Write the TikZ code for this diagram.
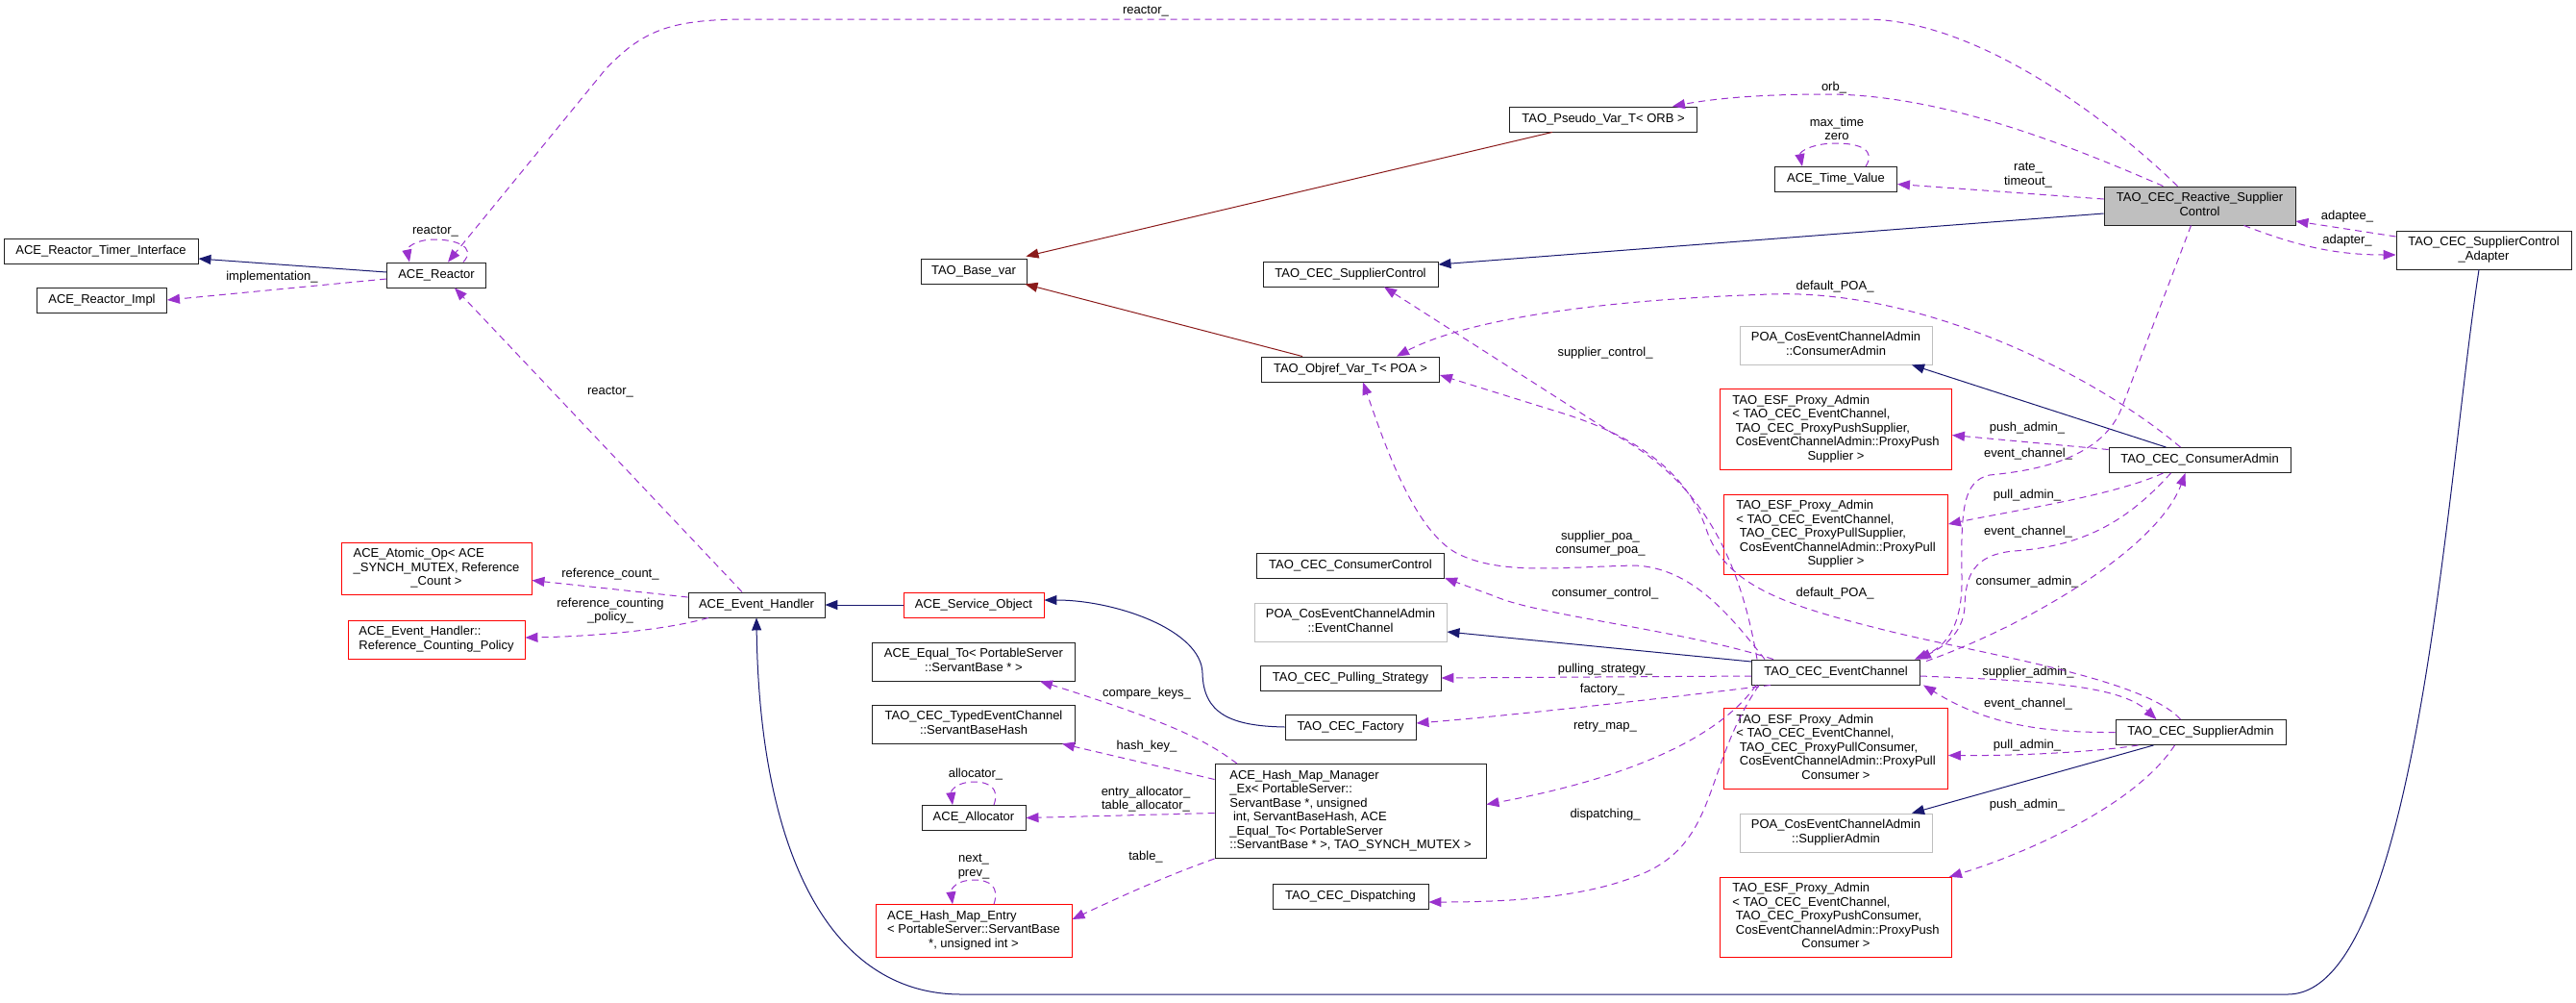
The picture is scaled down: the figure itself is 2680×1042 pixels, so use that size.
\documentclass[tikz,border=0pt]{standalone}
\usepackage{fontspec}
\setmainfont{Liberation Sans}
\usetikzlibrary{arrows.meta}
\definecolor{inhcol}{HTML}{191970}
\definecolor{tplcol}{HTML}{8B1A1A}
\definecolor{usecol}{HTML}{9A32CD}
\definecolor{greycol}{HTML}{BFBFBF}
\definecolor{edgecol}{HTML}{202020}
\newcommand{\dfont}{\fontsize{13}{14.5}\selectfont}
\newcommand{\lastc}[2]{\begin{tabular}{@{}l@{}}#1\\\multicolumn{1}{@{}c@{}}{#2}\end{tabular}}
\newcommand{\lefts}[1]{\begin{tabular}{@{}l@{}}#1\end{tabular}}
\tikzset{
  cls/.style={draw=edgecol, fill=white, line width=0.9pt, font=\dfont, inner xsep=4pt, inner ysep=5.5pt, minimum height=26pt},
  clsred/.style={cls, draw=red},
  clsgrey/.style={cls, draw=greycol},
  clsmain/.style={cls, fill=greycol},
  memb/.style={font=\dfont, inner sep=0pt, align=center},
  inh/.style={draw=inhcol, line width=1pt, -{Triangle[length=13pt,width=10pt]}},
  tpl/.style={draw=tplcol, line width=1pt, -{Triangle[length=13pt,width=10pt]}},
  usage/.style={draw=usecol, line width=1pt, dash pattern=on 7pt off 5pt, -{Triangle[length=13pt,width=10pt]}}
}
\begin{document}
\begin{tikzpicture}[x=1pt,y=-1pt]
\useasboundingbox (0,0) rectangle (2680,1042);
\node[cls, minimum width=202pt] (timer) at (105,261) {ACE\_Reactor\_Timer\_Interface};
\node[cls, minimum width=135pt] (rimpl) at (106,312) {ACE\_Reactor\_Impl};
\node[cls, minimum width=103pt] (reactor) at (454,286) {ACE\_Reactor};
\node[cls, minimum width=142pt] (evh) at (787,629) {ACE\_Event\_Handler};
\node[clsred, minimum width=198pt] (atomic) at (454,591.5) {\lastc{ACE\_Atomic\_Op< ACE\\\_SYNCH\_MUTEX, Reference}{\_Count >}};
\node[clsred, minimum width=184pt] (rcpol) at (454,665) {\lastc{ACE\_Event\_Handler::}{Reference\_Counting\_Policy}};
\node[clsred, minimum width=146pt] (svcobj) at (1013,629) {ACE\_Service\_Object};
\node[cls, minimum width=211pt] (equalto) at (1013,688) {\lastc{ACE\_Equal\_To< PortableServer}{::ServantBase * >}};
\node[cls, minimum width=211pt] (sbhash) at (1013,753) {\lastc{TAO\_CEC\_TypedEventChannel}{::ServantBaseHash}};
\node[cls, minimum width=108pt] (alloc) at (1013,850.5) {ACE\_Allocator};
\node[cls, minimum width=282pt] (hmm) at (1405,843.5) {\lefts{ACE\_Hash\_Map\_Manager\\\_Ex< PortableServer::\\ServantBase *, unsigned\\\ int, ServantBaseHash, ACE\\\_Equal\_To< PortableServer\\::ServantBase * >, TAO\_SYNCH\_MUTEX >}};
\node[clsred, minimum width=204pt] (hmentry) at (1013,968) {\lastc{ACE\_Hash\_Map\_Entry\\< PortableServer::ServantBase}{*, unsigned int >}};
\node[cls, minimum width=195pt] (pseudo) at (1668,124) {TAO\_Pseudo\_Var\_T< ORB >};
\node[cls, minimum width=127pt] (timeval) at (1910,186.5) {ACE\_Time\_Value};
\node[clsmain, minimum width=199pt] (rsc) at (2288.5,214) {\lastc{TAO\_CEC\_Reactive\_Supplier}{Control}};
\node[cls, minimum width=182pt] (adapter) at (2584,260) {\lastc{TAO\_CEC\_SupplierControl}{\_Adapter}};
\node[cls, minimum width=110pt] (basevar) at (1013,282) {TAO\_Base\_var};
\node[cls, minimum width=182pt] (supctrl) at (1405,285) {TAO\_CEC\_SupplierControl};
\node[cls, minimum width=185pt] (objref) at (1405,384) {TAO\_Objref\_Var\_T< POA >};
\node[clsgrey, minimum width=200pt] (poaca) at (1910,359) {\lastc{POA\_CosEventChannelAdmin}{::ConsumerAdmin}};
\node[clsred, minimum width=241pt] (pxpushsup) at (1910,446.5) {\lastc{TAO\_ESF\_Proxy\_Admin\\< TAO\_CEC\_EventChannel,\\\ TAO\_CEC\_ProxyPushSupplier,\\\ CosEventChannelAdmin::ProxyPush}{Supplier >}};
\node[clsred, minimum width=233pt] (pxpullsup) at (1910,556) {\lastc{TAO\_ESF\_Proxy\_Admin\\< TAO\_CEC\_EventChannel,\\\ TAO\_CEC\_ProxyPullSupplier,\\\ CosEventChannelAdmin::ProxyPull}{Supplier >}};
\node[cls, minimum width=189pt] (conadmin) at (2288.5,478.5) {TAO\_CEC\_ConsumerAdmin};
\node[cls, minimum width=195pt] (conctrl) at (1405,588) {TAO\_CEC\_ConsumerControl};
\node[clsgrey, minimum width=200pt] (poaec) at (1405,647) {\lastc{POA\_CosEventChannelAdmin}{::EventChannel}};
\node[cls, minimum width=188pt] (pullstrat) at (1405,705) {TAO\_CEC\_Pulling\_Strategy};
\node[cls, minimum width=175pt] (evch) at (1910,699) {TAO\_CEC\_EventChannel};
\node[cls, minimum width=136pt] (factory) at (1405,756) {TAO\_CEC\_Factory};
\node[cls, minimum width=162pt] (dispatch) at (1405,932) {TAO\_CEC\_Dispatching};
\node[cls, minimum width=177pt] (supadmin) at (2289.5,761.5) {TAO\_CEC\_SupplierAdmin};
\node[clsred, minimum width=233pt] (pxpullcon) at (1910,778.5) {\lastc{TAO\_ESF\_Proxy\_Admin\\< TAO\_CEC\_EventChannel,\\\ TAO\_CEC\_ProxyPullConsumer,\\\ CosEventChannelAdmin::ProxyPull}{Consumer >}};
\node[clsgrey, minimum width=200pt] (poasa) at (1910,866) {\lastc{POA\_CosEventChannelAdmin}{::SupplierAdmin}};
\node[clsred, minimum width=241pt] (pxpushcon) at (1910,954) {\lastc{TAO\_ESF\_Proxy\_Admin\\< TAO\_CEC\_EventChannel,\\\ TAO\_CEC\_ProxyPushConsumer,\\\ CosEventChannelAdmin::ProxyPush}{Consumer >}};

\node[memb] (lrself) at (453,241) {reactor\_};
\node[memb] (limpl) at (283,288) {implementation\_};
\node[memb] (lehreactor) at (635,408) {reactor\_};
\node[memb] (lrefcount) at (635,597) {reference\_count\_};
\node[memb] (lrefpol) at (635,635) {reference\_counting\\\_policy\_};
\node[memb] (ltopreactor) at (1192,12) {reactor\_};
\node[memb] (lorb) at (1908,91) {orb\_};
\node[memb] (ltime) at (1911,134) {max\_time\\zero};
\node[memb] (lrate) at (2110,182) {rate\_\\timeout\_};
\node[memb] (ladaptee) at (2442,225) {adaptee\_};
\node[memb] (ladapter) at (2442,250) {adapter\_};
\node[memb] (ldefpoaca) at (1909,298) {default\_POA\_};
\node[memb] (lsupctrl) at (1670,367) {supplier\_control\_};
\node[memb] (lpushca) at (2109,445) {push\_admin\_};
\node[memb] (lecrsc) at (2110,472) {event\_channel\_};
\node[memb] (lpullca) at (2109,515) {pull\_admin\_};
\node[memb] (lecca) at (2110,553) {event\_channel\_};
\node[memb] (lpoa) at (1665,565) {supplier\_poa\_\\consumer\_poa\_};
\node[memb] (lcaadm) at (2109,605) {consumer\_admin\_};
\node[memb] (lconctrl) at (1670,617) {consumer\_control\_};
\node[memb] (ldefpoasa) at (1909,617) {default\_POA\_};
\node[memb] (lpulling) at (1670,696) {pulling\_strategy\_};
\node[memb] (lsaadm) at (2110,699) {supplier\_admin\_};
\node[memb] (lfactory) at (1667,717) {factory\_};
\node[memb] (lecsa) at (2110,732) {event\_channel\_};
\node[memb] (lretry) at (1670,756) {retry\_map\_};
\node[memb] (lpullsa) at (2109,775) {pull\_admin\_};
\node[memb] (lpushsa) at (2109,837) {push\_admin\_};
\node[memb] (ldisp) at (1670,847) {dispatching\_};
\node[memb] (lcmp) at (1193,721) {compare\_keys\_};
\node[memb] (lhash) at (1193,776) {hash\_key\_};
\node[memb] (lallocs) at (1192,831) {entry\_allocator\_\\table\_allocator\_};
\node[memb] (lalloc) at (1015,805) {allocator\_};
\node[memb] (ltable) at (1192,891) {table\_};
\node[memb] (lnext) at (1013,901) {next\_\\prev\_};

\draw[inh] ([yshift=3pt]reactor.west) -- ([yshift=-8pt]timer.east);
\draw[inh] (svcobj.west) -- (evh.east);
\draw[inh] (factory.west) .. controls (1280,755) and (1252,742) .. (1251,700) .. controls (1250,655) and (1160,624) .. ([yshift=5pt]svcobj.east);
\draw[inh] ([yshift=-8pt]rsc.west) -- ([yshift=10pt]supctrl.east);
\draw[inh] ([xshift=-35pt]conadmin.north) -- ([xshift=79pt]poaca.south);
\draw[inh] ([yshift=11pt]evch.west) -- ([yshift=-10pt]poaec.east);
\draw[inh] ([xshift=-49pt]supadmin.south) -- ([xshift=79pt]poasa.north);
\draw[inh] ([xshift=-5pt]adapter.south) .. controls (2545,500) and (2515,1034) .. (2380,1034) -- (1000,1034) .. controls (860,1034) and (790,880) .. (evh.south);
\draw[tpl] ([xshift=-53pt]pseudo.south) -- ([xshift=-1pt,yshift=2pt]basevar.north east);
\draw[tpl] ([xshift=-50pt]objref.north) -- ([xshift=-2pt]basevar.south east);

\draw[usage] ([yshift=-4pt]reactor.west) -- (rimpl.east);
\draw[usage] ([xshift=28pt]reactor.north) .. controls (497,256) and (472,249) .. (452,249) .. controls (432,249) and (423,258) .. ([xshift=-28pt]reactor.north);
\draw[usage] ([xshift=-15pt]evh.north) -- ([xshift=19pt]reactor.south);
\draw[usage] ([yshift=8pt]evh.west) -- ([yshift=-12pt]atomic.east);
\draw[usage] ([xshift=-50pt]evh.south) .. controls (690,656) and (610,662) .. ([yshift=2pt]rcpol.east);
\draw[usage] ([xshift=-23pt]rsc.north) .. controls (2200,130) and (2060,20) .. (1940,20) -- (780,20) .. controls (700,20) and (670,30) .. (630,72) -- ([xshift=12pt]reactor.north);
\draw[usage] ([xshift=-38pt]rsc.north) .. controls (2150,150) and (2020,98) .. (1900,98) .. controls (1820,98) and (1775,104) .. ([xshift=72pt]pseudo.north);
\draw[usage] ([yshift=7pt]rsc.west) -- ([yshift=-5pt]timeval.east);
\draw[usage] ([xshift=31pt]timeval.north) .. controls (1952,156) and (1935,149) .. (1910,149) .. controls (1885,149) and (1872,158) .. ([xshift=-35pt]timeval.north);
\draw[usage] ([xshift=46pt]rsc.south) .. controls (2390,256) and (2430,265) .. ([yshift=-5pt]adapter.west);
\draw[usage] ([yshift=14pt]adapter.west) -- ([yshift=-16pt]rsc.east);
\draw[usage] ([xshift=-9pt]rsc.south) -- (2207,425) .. controls (2185,480) and (2110,490) .. (2070,494) .. controls (2042,500) and (2040,530) .. (2041,600) .. controls (2042,650) and (2025,672) .. ([xshift=-6pt]evch.north east);
\draw[usage] ([yshift=11pt]conadmin.west) -- ([yshift=-6pt]pxpushsup.east);
\draw[usage] ([xshift=-38pt]conadmin.south) .. controls (2200,515) and (2100,530) .. ([yshift=11pt]pxpullsup.east);
\draw[usage] ([xshift=-30pt]conadmin.south) .. controls (2215,540) and (2170,568) .. (2095,573) .. controls (2052,577) and (2045,600) .. (2044,630) .. controls (2043,662) and (2015,676) .. ([xshift=-2pt]evch.north east);
\draw[usage] ([xshift=6pt,yshift=-2pt]evch.north east) .. controls (2110,650) and (2245,570) .. ([xshift=-15pt]conadmin.south);
\draw[usage] ([xshift=-20pt]conadmin.north) .. controls (2180,390) and (2000,300) .. (1842,306) .. controls (1650,312) and (1520,335) .. ([xshift=48pt]objref.north);
\draw[usage] ([yshift=-4pt]evch.east) .. controls (2120,708) and (2205,712) .. ([xshift=-46pt]supadmin.north);
\draw[usage] (supadmin.west) .. controls (2120,762) and (2065,752) .. ([xshift=3pt]evch.south east);
\draw[usage] ([xshift=-65pt]supadmin.south) .. controls (2180,782) and (2100,786) .. ([yshift=-7pt]pxpullcon.east);
\draw[usage] ([xshift=-27pt]supadmin.south) .. controls (2220,840) and (2100,890) .. ([xshift=-3pt]pxpushcon.north east);
\draw[usage] ([xshift=-21pt]supadmin.north) .. controls (2230,705) and (2060,680) .. (1960,655) .. controls (1860,630) and (1795,610) .. (1775,550) .. controls (1755,490) and (1700,452) .. (1620,428) -- ([yshift=-6pt]objref.east);
\draw[usage] ([xshift=-74pt]evch.north) .. controls (1800,640) and (1760,590) .. (1700,588) .. controls (1620,590) and (1560,598) .. (1515,575) .. controls (1470,550) and (1440,460) .. ([xshift=13pt]objref.south);
\draw[usage] ([xshift=-82pt]evch.north) .. controls (1810,580) and (1770,500) .. (1680,452) -- ([xshift=35pt]supctrl.south);
\draw[usage] ([xshift=-65pt]evch.north) .. controls (1750,655) and (1600,640) .. (1555,620) -- ([yshift=-13pt]conctrl.east);
\draw[usage] ([yshift=-4pt]evch.west) -- (pullstrat.east);
\draw[usage] ([xshift=-68pt]evch.south) .. controls (1700,730) and (1550,746) .. ([yshift=4pt]factory.east);
\draw[usage] ([xshift=5pt]evch.south west) .. controls (1790,765) and (1700,808) .. ([yshift=7pt]hmm.east);
\draw[usage] ([xshift=-80pt]evch.south) .. controls (1770,800) and (1790,880) .. (1700,912) .. controls (1640,935) and (1560,938) .. ([yshift=-6pt]dispatch.east);
\draw[usage] ([xshift=-118pt]hmm.north) .. controls (1255,770) and (1220,752) .. ([xshift=69pt]equalto.south);
\draw[usage] ([yshift=33pt]hmm.west) -- ([xshift=92pt]sbhash.south);
\draw[usage] ([yshift=-2pt]hmm.west) -- (alloc.east);
\draw[usage] (hmm.south west) .. controls (1210,912) and (1160,935) .. ([yshift=12pt]hmentry.east);
\draw[usage] ([xshift=21pt]alloc.north) .. controls (1040,820) and (1030,813) .. (1013,813) .. controls (996,813) and (989,822) .. ([xshift=-22pt]alloc.north);
\draw[usage] ([xshift=21pt]hmentry.north) .. controls (1040,922) and (1030,915) .. (1013,915) .. controls (996,915) and (989,924) .. ([xshift=-22pt]hmentry.north);
\end{tikzpicture}
\end{document}
